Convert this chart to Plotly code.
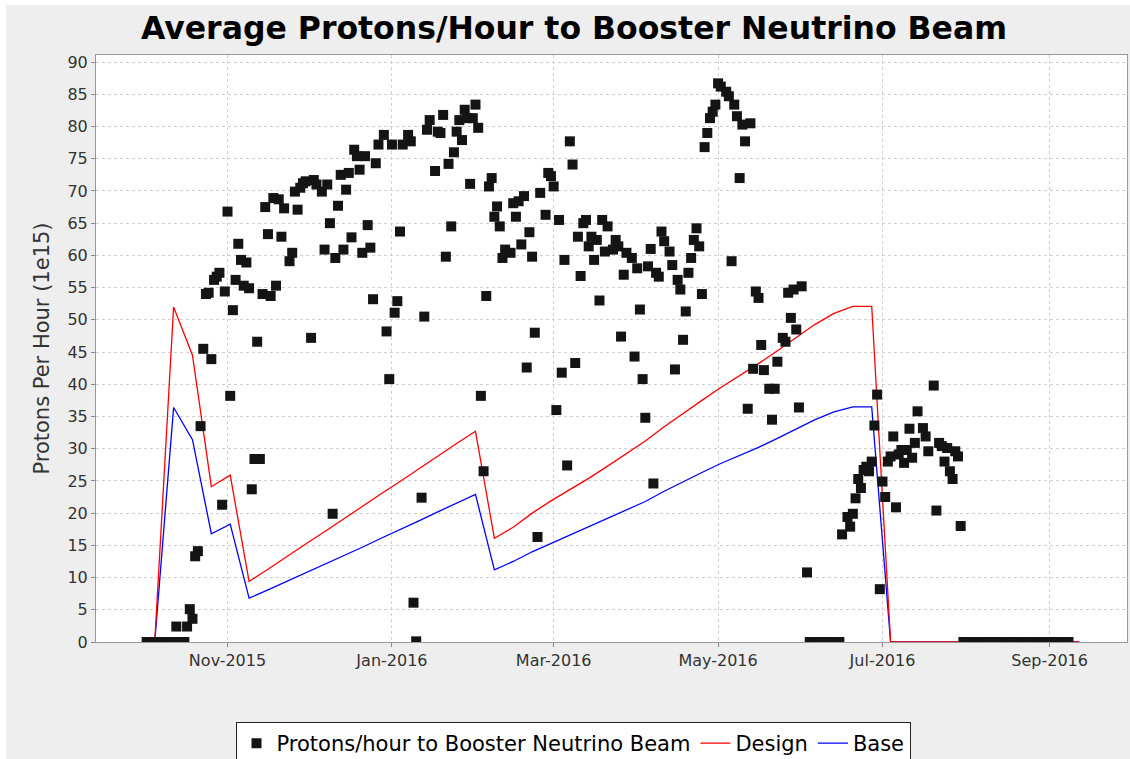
import pandas as pd
import plotly.graph_objects as go

# ---------------- data ----------------
# Daily protons/hour values (1e15), starting 2015-10-02; None = no sample that day
pbnb_start = "2015-10-02"
pbnb_values = [
    0, 0, 0, 0, 0, 0, 0, 0, 0, 0,
    0, 2.4, 0, 0, 0, 2.4, 5.1, 3.6, 13.3, 14.1,
    33.5, 45.5, 54.0, 54.2, 43.9, 56.2, 56.7, 57.3, 21.3, 54.4,
    66.8, 38.2, 51.5, 56.2, 61.8, 59.3, 55.3, 58.9, 54.9, 23.7,
    28.4, 46.6, 28.4, 54.0, 67.5, 63.3, 53.7, 68.9, 55.3, 68.7,
    62.9, 67.3, None, 59.1, 60.4, 69.9, 67.1, 70.5, 71.2, 71.5,
    None, 47.2, 71.7, 71.0, None, 69.9, 60.9, 71.0, 65.0, 19.9,
    59.6, 67.7, 72.5, 60.9, 70.2, 72.8, 62.8, 76.4, 75.4, 73.3,
    60.4, 75.4, 64.7, 61.2, 53.2, 74.3, 77.2, None, 78.7, 48.2,
    40.8, 77.2, 51.1, 52.9, 63.7, 77.2, None, 78.7, 77.7, 6.1,
    0.1, None, 22.4, 50.5, 79.5, 81.0, None, 73.1, 79.2, 79.0,
    81.8, 59.8, 74.2, 64.5, 76.0, 79.2, 81.0, 77.9, 82.6, 81.3,
    71.1, 81.3, 83.4, 79.8, 38.2, 26.5, 53.7, 70.7, 72.0, 66.0,
    67.6, 64.5, 59.6, 60.9, None, 60.4, 68.1, 66.0, 68.4, 61.7,
    69.2, 42.6, 63.6, 59.8, 48.0, 16.3, 69.7, None, 66.3, 72.8,
    72.3, 70.7, 36.0, 65.5, 41.8, 59.3, 27.4, 77.7, 74.1, 43.3,
    62.9, 56.8, 65.0, 65.5, 61.4, 62.9, 59.3, 62.4, 53.0, 65.5,
    60.6, 64.5, None, 60.9, 62.4, 61.4, 47.4, 57.0, 60.4, None,
    59.6, 44.3, 58.0, 51.6, 40.8, 34.8, 58.3, 61.0, 24.6, 57.3,
    56.7, 63.7, 62.2, None, 60.6, 58.5, 42.3, 56.2, 54.7, 46.9,
    51.3, 57.3, 59.6, 62.4, 64.2, 61.4, 54.0, 76.8, 79.0, 81.3,
    82.3, 83.4, 86.7, 86.2, None, 85.4, 84.7, 59.1, 83.4, 81.6,
    72.0, 80.3, 77.7, 36.2, 80.5, 42.4, 54.4, 53.4, 46.1, 42.2,
    None, 39.3, 34.5, 39.3, 43.5, None, 47.2, 46.6, 54.2, 50.3,
    54.7, 48.5, 36.4, 55.2, None, 10.8, 0, 0, 0, 0,
    0, 0, 0, 0, 0, 0, 0, 0, 16.7, None,
    19.4, 17.9, 19.9, 22.3, 25.3, 23.9, 26.7, 27.2, 26.5, 28.0,
    33.6, 38.4, 8.2, 24.9, 22.5, 28.0, 28.8, 31.9, 20.9, 29.1,
    29.8, 27.8, 29.8, 33.1, 28.6, 30.9, 35.8, None, 33.2, 31.9,
    29.6, None, 39.8, 20.4, 30.9, 30.4, 28.0, 30.1, 26.5, 25.3,
    29.6, 28.8, 18.0, 0, 0, 0, 0, 0, 0, 0,
    0, 0, 0, 0, 0, 0, 0, 0, 0, 0,
    0, 0, 0, 0, 0, 0, 0, 0, 0, 0,
    0, 0, 0, 0, 0, 0, 0, 0, 0, 0,
    0, 0, 0,
]

line_dates = [
    "2015-10-05", "2015-10-12", "2015-10-19", "2015-10-26", "2015-11-02",
    "2015-11-09", "2015-11-16", "2015-11-23", "2015-11-30", "2015-12-07",
    "2015-12-14", "2015-12-21", "2015-12-28", "2016-01-04", "2016-01-11",
    "2016-01-18", "2016-01-25", "2016-02-01", "2016-02-08", "2016-02-15",
    "2016-02-22", "2016-02-29", "2016-03-07", "2016-03-14", "2016-03-21",
    "2016-03-28", "2016-04-04", "2016-04-11", "2016-04-18", "2016-04-25",
    "2016-05-02", "2016-05-09", "2016-05-16", "2016-05-23", "2016-05-30",
    "2016-06-06", "2016-06-13", "2016-06-20", "2016-06-27", "2016-07-04",
    "2016-09-12",
]
design_values = [
    0, 52.0, 44.5, 24.1, 25.9, 9.4, 11.3, 13.3, 15.2, 17.1,
    19.1, 21.0, 23.0, 24.9, 26.9, 28.8, 30.8, 32.7, 16.1, 17.8,
    20.0, 21.9, 23.6, 25.4, 27.3, 29.2, 31.2, 33.4, 35.5, 37.5,
    39.5, 41.3, 43.2, 45.2, 47.3, 49.3, 51.0, 52.1, 52.1, 0,
    0,
]
base_values = [
    0, 36.4, 31.4, 16.8, 18.3, 6.8, 8.1, 9.4, 10.7, 12.0,
    13.4, 14.7, 16.1, 17.4, 18.8, 20.2, 21.6, 22.9, 11.2, 12.5,
    14.0, 15.3, 16.5, 17.8, 19.1, 20.4, 21.8, 23.4, 24.9, 26.3,
    27.7, 28.9, 30.2, 31.6, 33.1, 34.5, 35.7, 36.5, 36.5, 0,
    0,
]

y_ticks = list(range(0, 95, 5))

# ---------------- figure ----------------
pbnb_dates = pd.date_range(pbnb_start, periods=len(pbnb_values), freq="D")

fig = go.Figure()
fig.add_trace(go.Scatter(
    x=line_dates, y=base_values, mode="lines", name="Base",
    line=dict(color="#0000FF", width=1.3), legendrank=3,
))
fig.add_trace(go.Scatter(
    x=line_dates, y=design_values, mode="lines", name="Design",
    line=dict(color="#FF0000", width=1.3), legendrank=2,
))
fig.add_trace(go.Scatter(
    x=pbnb_dates, y=pbnb_values, mode="markers",
    name="Protons/hour to Booster Neutrino Beam",
    marker=dict(symbol="square", size=10, color="#141414", line=dict(width=0)),
    legendrank=1,
))

W, H = 1130, 759
ml, mr, mt, mb = 96, 3, 55, 117
pw, ph = W - ml - mr, H - mt - mb


def px_x(p):
    return (p - ml) / pw


def px_y(p):
    return (H - mb - p) / ph


font_fam = "DejaVu Sans, Verdana, sans-serif"

fig.update_layout(
    width=W, height=H,
    margin=dict(l=ml, r=mr, t=mt, b=mb, autoexpand=False),
    paper_bgcolor="#EEEEEE",
    plot_bgcolor="#FFFFFF",
    title=dict(
        text="<b>Average Protons/Hour to Booster Neutrino Beam</b>",
        font=dict(family=font_fam, size=31.5, color="#000000"),
        x=px_x(574), xanchor="center", xref="paper",
        y=1 - 28 / H, yanchor="middle", yref="container",
    ),
    showlegend=True,
    legend=dict(
        orientation="h",
        xref="container", x=573 / W, xanchor="center",
        yref="container", y=1 - 722 / H, yanchor="top",
        bgcolor="#FFFFFF", bordercolor="#222222", borderwidth=1,
        font=dict(family=font_fam, size=21, color="#000000"),
        itemwidth=30, tracegroupgap=0,
    ),
    shapes=[
        dict(type="rect", xref="paper", yref="paper", layer="above",
             x0=px_x(0), x1=px_x(6), y0=px_y(H), y1=px_y(0),
             fillcolor="#FFFFFF", line=dict(width=0)),
        dict(type="rect", xref="paper", yref="paper", layer="above",
             x0=px_x(0), x1=px_x(W), y0=px_y(5), y1=px_y(0),
             fillcolor="#FFFFFF", line=dict(width=0)),
    ],
)

fig.update_xaxes(
    type="date",
    range=["2015-09-13 05:00", "2016-09-29 17:00"],
    tick0="2015-11-01", dtick="M2", tickformat="%b-%Y",
    ticks="outside", ticklen=4, tickcolor="#888888",
    tickfont=dict(family=font_fam, size=16, color="#333333"),
    showgrid=True, gridcolor="#D0D0D0", gridwidth=1, griddash="3px,3px",
    showline=True, linecolor="#999999", linewidth=1, mirror=True,
    zeroline=False, automargin=False,
)
fig.update_yaxes(
    range=[0, 91.1],
    tickmode="array", tickvals=y_ticks, ticktext=[str(v) for v in y_ticks],
    ticks="outside", ticklen=4, tickcolor="#888888",
    tickfont=dict(family=font_fam, size=16, color="#333333"),
    title=dict(text="Protons Per Hour (1e15)",
               font=dict(family=font_fam, size=21, color="#333333"), standoff=12),
    showgrid=True, gridcolor="#D0D0D0", gridwidth=1, griddash="3px,3px",
    showline=True, linecolor="#999999", linewidth=1, mirror=True,
    zeroline=False, automargin=False,
)

fig.write_html(
    "out.html",
    config={"displayModeBar": False},
    post_script="document.body.style.margin='0';document.body.style.overflow='hidden';",
)
